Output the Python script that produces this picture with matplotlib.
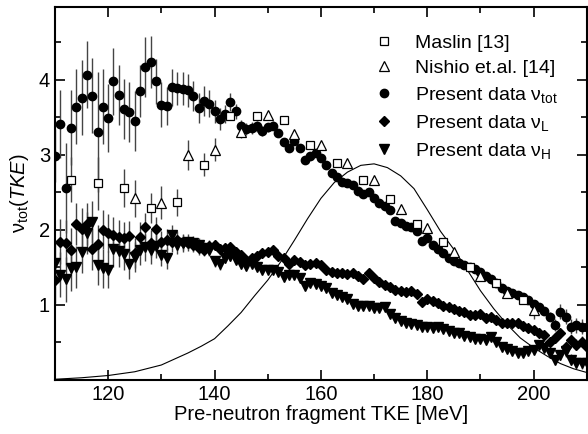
import numpy as np
import matplotlib
matplotlib.use('Agg')
import matplotlib.pyplot as plt
from matplotlib.ticker import MultipleLocator

plt.rcParams['font.family'] = 'Liberation Sans'
plt.rcParams['mathtext.fontset'] = 'custom'
plt.rcParams['mathtext.rm'] = 'Liberation Sans'
plt.rcParams['mathtext.it'] = 'Liberation Sans:italic'

# present data, 1 MeV bins from 110 to 210
tke = list(range(110, 211))
nu_tot = [2.99, 3.41, 2.56, 3.36, 3.64, 3.76, 4.07, 3.79, 3.31, 3.64,
          3.49, 3.98, 3.80, 3.61, 3.57, 3.45, 3.85, 4.17, 4.24, 3.98,
          3.67, 3.65, 3.90, 3.89, 3.88, 3.86, 3.79, 3.63, 3.72, 3.68,
          3.58, 3.48, 3.55, 3.70, 3.58, 3.38, 3.34, 3.36, 3.38, 3.32,
          3.37, 3.39, 3.29, 3.17, 3.09, 3.19, 3.09, 2.93, 2.99, 3.02,
          2.96, 2.86, 2.76, 2.70, 2.64, 2.62, 2.60, 2.52, 2.48, 2.51,
          2.42, 2.36, 2.32, 2.26, 2.12, 2.09, 2.05, 2.04, 1.98, 1.85,
          1.89, 1.80, 1.75, 1.69, 1.62, 1.58, 1.56, 1.53, 1.51, 1.48,
          1.44, 1.39, 1.34, 1.29, 1.23, 1.18, 1.16, 1.13, 1.10, 1.06,
          1.01, 0.97, 0.92, 0.84, 0.73, 0.91, 0.84, 0.71, 0.73, 0.71,
          0.70]
err_tot = [0.35, 0.45, 0.60, 0.50, 0.50, 0.50, 0.45, 0.50, 0.80, 0.50,
           0.45, 0.45, 0.40, 0.40, 0.40, 0.40, 0.35, 0.40, 0.35, 0.30,
           0.30, 0.25, 0.25, 0.22, 0.22, 0.22, 0.20, 0.20, 0.20, 0.18,
           0.15, 0.15, 0.12, 0.12, 0.10, 0.08, 0.08, 0.08, 0.07, 0.07,
           0.06, 0.06, 0.05, 0.05, 0.04, 0.04, 0.03, 0.03, 0.03, 0.03,
           0.03, 0.03, 0.03, 0.03, 0.03, 0.03, 0.03, 0.03, 0.03, 0.03,
           0.03, 0.03, 0.03, 0.03, 0.03, 0.03, 0.03, 0.03, 0.03, 0.03,
           0.03, 0.03, 0.03, 0.03, 0.03, 0.03, 0.03, 0.03, 0.03, 0.03,
           0.03, 0.03, 0.03, 0.03, 0.03, 0.03, 0.03, 0.03, 0.03, 0.03,
           0.04, 0.04, 0.05, 0.06, 0.08, 0.10, 0.10, 0.10, 0.10, 0.10,
           0.10]
nu_L = [1.33, 1.84, 1.83, 1.73, 2.08, 2.01, 2.08, 1.74, 1.81, 2.00,
        1.96, 1.93, 1.91, 1.89, 1.92, 1.69, 1.91, 2.04, 1.82, 2.01,
        1.84, 1.87, 1.84, 1.86, 1.84, 1.82, 1.80, 1.76, 1.73, 1.79,
        1.80, 1.74, 1.76, 1.77, 1.70, 1.67, 1.60, 1.62, 1.65, 1.69,
        1.71, 1.73, 1.65, 1.62, 1.55, 1.60, 1.57, 1.53, 1.54, 1.56,
        1.53, 1.47, 1.44, 1.43, 1.42, 1.41, 1.43, 1.38, 1.35, 1.42,
        1.36, 1.31, 1.26, 1.24, 1.20, 1.18, 1.17, 1.18, 1.14, 1.04,
        1.08, 1.05, 1.02, 0.99, 0.97, 0.94, 0.92, 0.90, 0.87, 0.87,
        0.88, 0.82, 0.84, 0.80, 0.76, 0.76, 0.76, 0.76, 0.72, 0.69,
        0.67, 0.62, 0.60, 0.51, 0.56, 0.62, 0.44, 0.53, 0.47, 0.51,
        0.44]
nu_H = [1.56, 1.40, 1.34, 1.49, 1.51, 1.71, 1.96, 2.11, 1.53, 1.49,
        1.47, 1.75, 1.72, 1.68, 1.55, 1.64, 1.73, 1.77, 1.73, 1.78,
        1.67, 1.62, 1.93, 1.80, 1.82, 1.84, 1.82, 1.80, 1.76, 1.73,
        1.58, 1.54, 1.62, 1.65, 1.60, 1.55, 1.52, 1.55, 1.50, 1.47,
        1.47, 1.46, 1.44, 1.37, 1.40, 1.40, 1.36, 1.25, 1.29, 1.28,
        1.25, 1.22, 1.16, 1.13, 1.10, 1.08, 1.01, 0.99, 0.99, 0.98,
        0.96, 0.96, 0.97, 0.88, 0.83, 0.79, 0.76, 0.75, 0.73, 0.71,
        0.70, 0.69, 0.71, 0.68, 0.65, 0.63, 0.62, 0.59, 0.57, 0.55,
        0.54, 0.53, 0.57, 0.50, 0.44, 0.41, 0.38, 0.36, 0.36, 0.38,
        0.40, 0.47, 0.42, 0.36, 0.27, 0.33, 0.38, 0.27, 0.23, 0.22,
        0.22]
err_LH = [0.30, 0.30, 0.30, 0.30, 0.28, 0.28, 0.28, 0.28, 0.26, 0.26,
          0.25, 0.24, 0.22, 0.22, 0.20, 0.20, 0.20, 0.18, 0.18, 0.16,
          0.15, 0.14, 0.13, 0.12, 0.11, 0.10, 0.10, 0.09, 0.08, 0.08,
          0.07, 0.07, 0.06, 0.06, 0.05, 0.05, 0.04, 0.04, 0.04, 0.04,
          0.03, 0.03, 0.03, 0.03, 0.03, 0.03, 0.03, 0.03, 0.03, 0.03,
          0.03, 0.03, 0.03, 0.03, 0.03, 0.03, 0.03, 0.03, 0.03, 0.03,
          0.03, 0.03, 0.03, 0.03, 0.03, 0.03, 0.03, 0.03, 0.03, 0.03,
          0.03, 0.03, 0.03, 0.03, 0.03, 0.03, 0.03, 0.03, 0.03, 0.03,
          0.03, 0.03, 0.03, 0.03, 0.03, 0.03, 0.03, 0.03, 0.03, 0.03,
          0.04, 0.04, 0.05, 0.05, 0.06, 0.06, 0.07, 0.07, 0.07, 0.07,
          0.07]

# Maslin [13]
maslin_x = [113, 118, 123, 128, 133, 138, 143, 148, 153, 158, 163, 168, 173, 178, 183, 188, 193, 198]
maslin_y = [2.67, 2.62, 2.56, 2.29, 2.37, 2.87, 3.52, 3.52, 3.47, 3.13, 2.89, 2.67, 2.41, 2.08, 1.84, 1.51, 1.29, 1.07]
maslin_err = [0.30, 0.35, 0.25, 0.20, 0.18, 0.15, 0.05, 0.05, 0.05, 0.05, 0.05, 0.05, 0.05, 0.05, 0.05, 0.05, 0.04, 0.04]

# Nishio et.al. [14]
nishio_x = [125, 130, 135, 140, 145, 150, 155, 160, 165, 170, 175, 180, 185, 190, 195, 200]
nishio_y = [2.42, 2.36, 3.00, 3.07, 3.30, 3.53, 3.28, 3.13, 2.89, 2.66, 2.28, 2.02, 1.70, 1.39, 1.16, 0.93]
nishio_err = [0.25, 0.22, 0.20, 0.15, 0.08, 0.04, 0.03, 0.03, 0.03, 0.03, 0.03, 0.03, 0.03, 0.04, 0.05, 0.12]

# TKE distribution (line)
dist_x = [110, 115, 120, 125, 130, 135, 137.5, 140, 142.5, 145, 147.5, 150, 152.5, 155, 157.5,
          160, 162.5, 165, 167.5, 170, 172.5, 175, 177.5, 180, 182.5, 185, 187.5, 190, 192.5,
          195, 197.5, 200, 202.5, 205, 207.5, 210]
dist_y = [0.01, 0.03, 0.06, 0.11, 0.20, 0.36, 0.45, 0.55, 0.72, 0.90, 1.12, 1.33, 1.58, 1.86, 2.15,
          2.42, 2.63, 2.77, 2.86, 2.88, 2.83, 2.72, 2.55, 2.27, 1.98, 1.74, 1.47, 1.19, 0.95,
          0.74, 0.56, 0.43, 0.32, 0.22, 0.15, 0.10]

fig = plt.figure(figsize=(5.88, 4.34), dpi=100)
ax = fig.add_axes([0.0935, 0.1244, 0.9045, 0.8595])

ax.plot(dist_x, dist_y, color='black', lw=0.8)

ebkw = dict(ecolor='#444444', elinewidth=1.0, capsize=0, linestyle='none')
ax.errorbar(tke, nu_L, yerr=err_LH, marker='D', ms=5.0, mfc='black', mec='black', **ebkw)
ax.errorbar(tke, nu_H, yerr=err_LH, marker='v', ms=6.5, mfc='black', mec='black', **ebkw)
ax.errorbar(tke, nu_tot, yerr=err_tot, marker='o', ms=6.0, mfc='black', mec='black', **ebkw)
ax.errorbar(maslin_x, maslin_y, yerr=maslin_err, marker='s', ms=5.8, mfc='white', mec='black',
            mew=0.9, **ebkw)
ax.errorbar(nishio_x, nishio_y, yerr=nishio_err, marker='^', ms=7.2, mfc='white', mec='black',
            mew=0.9, **ebkw)

# legend handles
h1, = ax.plot([], [], 's', ms=5.8, mfc='white', mec='black', mew=0.9)
h2, = ax.plot([], [], '^', ms=7.2, mfc='white', mec='black', mew=0.9)
h3, = ax.plot([], [], 'o', ms=6.0, color='black')
h4, = ax.plot([], [], 'D', ms=5.0, color='black')
h5, = ax.plot([], [], 'v', ms=6.5, color='black')
ax.legend([h1, h2, h3, h4, h5],
          ['Maslin [13]', 'Nishio et.al. [14]',
           r'Present data $\mathregular{\nu_{tot}}$',
           r'Present data $\mathregular{\nu_{L}}$',
           r'Present data $\mathregular{\nu_{H}}$'],
          loc='upper left', bbox_to_anchor=(0.6, 0.927), frameon=False,
          fontsize=14, handlelength=1.0, handletextpad=1.1, labelspacing=0.40,
          borderaxespad=0, borderpad=0)

ax.set_xlim(110, 210)
ax.set_ylim(0, 4.97)
ax.xaxis.set_major_locator(MultipleLocator(20))
ax.xaxis.set_minor_locator(MultipleLocator(10))
ax.yaxis.set_major_locator(MultipleLocator(1))
ax.yaxis.set_minor_locator(MultipleLocator(0.5))
ax.set_yticks([1, 2, 3, 4])
ax.tick_params(which='both', direction='in', top=True, right=True, width=1.2, labelsize=14.5)
ax.tick_params(which='major', length=7)
ax.tick_params(which='minor', length=4)
for s in ax.spines.values():
    s.set_linewidth(1.5)

ax.set_xlabel('Pre-neutron fragment TKE [MeV]', fontsize=14.5, labelpad=1)
ax.set_ylabel(r'$\mathregular{\nu_{tot}}$(' + r'$\mathit{TKE}$' + ')', fontsize=14.5, labelpad=6)

fig.savefig('out.png', dpi=100)
